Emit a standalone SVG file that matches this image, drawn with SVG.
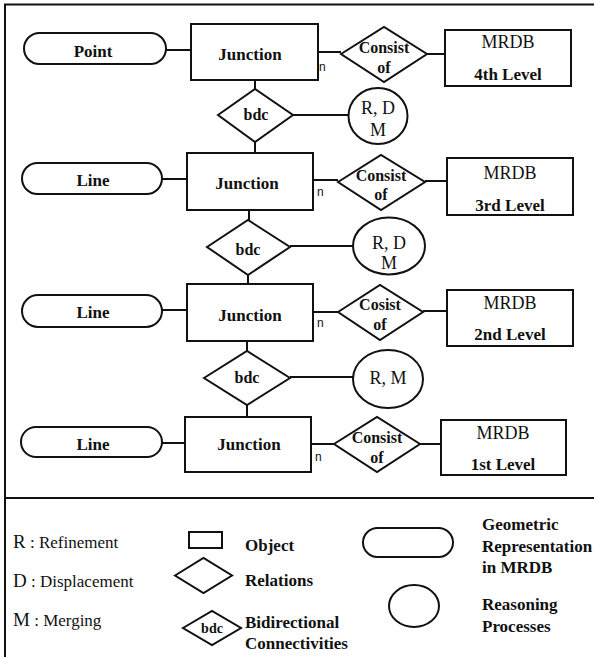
<svg xmlns="http://www.w3.org/2000/svg" width="594" height="657" viewBox="0 0 594 657">
<style>
.s{fill:#fff;stroke:#111;stroke-width:2}
.c line{stroke:#111;stroke-width:2}
</style>
<rect width="594" height="657" fill="#fff"/>
<g id="frame" fill="none" stroke="#111" stroke-width="2">
<polyline points="5,657 5,4.5 594,4.5"/>
<line x1="5" y1="498" x2="594" y2="498"/>
</g>
<g class="c" id="connectors">
<line x1="166" y1="50" x2="191" y2="50"/>
<line x1="318" y1="52" x2="341" y2="52"/>
<line x1="427" y1="54" x2="445" y2="54"/>
<line x1="255" y1="80" x2="255" y2="89"/>
<line x1="255" y1="142" x2="255" y2="153"/>
<line x1="293" y1="115" x2="349" y2="115"/>
<line x1="162" y1="179" x2="187" y2="179"/>
<line x1="313" y1="180" x2="338" y2="180"/>
<line x1="425" y1="181" x2="447" y2="181"/>
<line x1="249" y1="210" x2="249" y2="220"/>
<line x1="248" y1="275" x2="248" y2="284"/>
<line x1="290" y1="246" x2="353" y2="246"/>
<line x1="162" y1="310" x2="187" y2="310"/>
<line x1="313" y1="312" x2="338" y2="312"/>
<line x1="423" y1="311" x2="447" y2="311"/>
<line x1="247" y1="341" x2="247" y2="351"/>
<line x1="247" y1="405" x2="247" y2="417"/>
<line x1="290" y1="377" x2="353" y2="377"/>
<line x1="162" y1="443" x2="185" y2="443"/>
<line x1="311" y1="444" x2="334" y2="444"/>
<line x1="420" y1="444" x2="441" y2="444"/>
</g>
<g id="n-labels" fill="#111">
<text x="319" y="71" font-family="Liberation Sans" font-size="12">n</text>
<text x="317" y="196" font-family="Liberation Sans" font-size="12">n</text>
<text x="317" y="327" font-family="Liberation Sans" font-size="12">n</text>
<text x="315" y="461" font-family="Liberation Sans" font-size="12">n</text>
</g>
<g id="nodes" fill="#111" text-anchor="middle">
<g id="point1"><rect class="s" x="24" y="33" width="142" height="31" rx="15.5"/><text x="93" y="57" font-family="Liberation Serif" font-size="17" font-weight="bold">Point</text></g>
<g id="junction1"><rect class="s" x="191" y="24" width="127" height="56"/><text x="250" y="60" font-family="Liberation Serif" font-size="17" font-weight="bold">Junction</text></g>
<g id="consist1"><polygon class="s" points="341,54 384,27 427,54 384,82"/><text x="384" y="53" font-family="Liberation Serif" font-size="16" font-weight="bold">Consist</text><text x="384" y="73" font-family="Liberation Serif" font-size="16" font-weight="bold">of</text></g>
<g id="mrdb4"><rect class="s" x="445" y="30" width="126" height="56"/><text x="508" y="48" font-family="Liberation Serif" font-size="18">MRDB</text><text x="508" y="80" font-family="Liberation Serif" font-size="17" font-weight="bold">4th Level</text></g>
<g id="bdc1"><polygon class="s" points="218,115 255,89 293,115 255,142"/><text x="256" y="120" font-family="Liberation Serif" font-size="16" font-weight="bold">bdc</text></g>
<g id="rdm1"><ellipse class="s" cx="378" cy="116" rx="29.5" ry="28"/><text x="378" y="114" font-family="Liberation Serif" font-size="18">R, D</text><text x="378" y="136" font-family="Liberation Serif" font-size="18">M</text></g>
<g id="line2"><rect class="s" x="22" y="163" width="140" height="31" rx="15.5"/><text x="93" y="186" font-family="Liberation Serif" font-size="17" font-weight="bold">Line</text></g>
<g id="junction2"><rect class="s" x="187" y="153" width="126" height="57"/><text x="247" y="189" font-family="Liberation Serif" font-size="17" font-weight="bold">Junction</text></g>
<g id="consist2"><polygon class="s" points="338,182 381,155 425,182 381,210"/><text x="381" y="181" font-family="Liberation Serif" font-size="16" font-weight="bold">Consist</text><text x="381" y="200" font-family="Liberation Serif" font-size="16" font-weight="bold">of</text></g>
<g id="mrdb3"><rect class="s" x="447" y="158" width="126" height="57"/><text x="510" y="179" font-family="Liberation Serif" font-size="18">MRDB</text><text x="510" y="211" font-family="Liberation Serif" font-size="17" font-weight="bold">3rd Level</text></g>
<g id="bdc2"><polygon class="s" points="207,247 248,220 290,247 248,275"/><text x="248" y="255" font-family="Liberation Serif" font-size="16" font-weight="bold">bdc</text></g>
<g id="rdm2"><ellipse class="s" cx="389" cy="246" rx="36" ry="28.5"/><text x="389" y="249" font-family="Liberation Serif" font-size="18">R, D</text><text x="389" y="269" font-family="Liberation Serif" font-size="18">M</text></g>
<g id="line3"><rect class="s" x="22" y="295" width="140" height="32" rx="16"/><text x="93" y="318" font-family="Liberation Serif" font-size="17" font-weight="bold">Line</text></g>
<g id="junction3"><rect class="s" x="187" y="284" width="126" height="57"/><text x="250" y="321" font-family="Liberation Serif" font-size="17" font-weight="bold">Junction</text></g>
<g id="consist3"><polygon class="s" points="338,312 380,285 423,312 380,340"/><text x="380" y="310" font-family="Liberation Serif" font-size="16" font-weight="bold">Cosist</text><text x="380" y="330" font-family="Liberation Serif" font-size="16" font-weight="bold">of</text></g>
<g id="mrdb2"><rect class="s" x="447" y="290" width="126" height="56"/><text x="510" y="309" font-family="Liberation Serif" font-size="18">MRDB</text><text x="510" y="340" font-family="Liberation Serif" font-size="17" font-weight="bold">2nd Level</text></g>
<g id="bdc3"><polygon class="s" points="204,378 247,351 290,378 247,405"/><text x="247" y="383" font-family="Liberation Serif" font-size="16" font-weight="bold">bdc</text></g>
<g id="rm3"><ellipse class="s" cx="388" cy="379" rx="35" ry="29"/><text x="388" y="384" font-family="Liberation Serif" font-size="18">R, M</text></g>
<g id="line4"><rect class="s" x="21" y="427" width="141" height="30" rx="15"/><text x="93" y="450" font-family="Liberation Serif" font-size="17" font-weight="bold">Line</text></g>
<g id="junction4"><rect class="s" x="185" y="417" width="126" height="55"/><text x="249" y="450" font-family="Liberation Serif" font-size="17" font-weight="bold">Junction</text></g>
<g id="consist4"><polygon class="s" points="334,444 377,417 420,444 377,472"/><text x="377" y="443" font-family="Liberation Serif" font-size="16" font-weight="bold">Consist</text><text x="377" y="463" font-family="Liberation Serif" font-size="16" font-weight="bold">of</text></g>
<g id="mrdb1"><rect class="s" x="441" y="420" width="125" height="55"/><text x="503" y="439" font-family="Liberation Serif" font-size="18">MRDB</text><text x="503" y="470" font-family="Liberation Serif" font-size="17" font-weight="bold">1st Level</text></g>
</g>
<g id="legend" fill="#111">
<text x="13" y="548" font-family="Liberation Serif" font-size="17"><tspan font-size="19">R</tspan> : Refinement</text>
<text x="13" y="587" font-family="Liberation Serif" font-size="17"><tspan font-size="19">D</tspan> : Displacement</text>
<text x="13" y="626" font-family="Liberation Serif" font-size="17"><tspan font-size="19">M</tspan> : Merging</text>
<rect class="s" x="189" y="532" width="33" height="16"/>
<text x="245" y="551" font-family="Liberation Serif" font-size="17" font-weight="bold">Object</text>
<polygon class="s" points="175,575.5 203.5,558 232,575.5 203.5,593"/>
<text x="245" y="586" font-family="Liberation Serif" font-size="17" font-weight="bold">Relations</text>
<polygon class="s" points="183,628 212,611 241,628 212,645"/>
<text x="212" y="633" font-family="Liberation Serif" font-size="14" font-weight="bold" text-anchor="middle">bdc</text>
<text x="245" y="628" font-family="Liberation Serif" font-size="17" font-weight="bold">Bidirectional</text>
<text x="245" y="649" font-family="Liberation Serif" font-size="17" font-weight="bold">Connectivities</text>
<rect class="s" x="363" y="528" width="90" height="29" rx="14.5"/>
<text x="482" y="530" font-family="Liberation Serif" font-size="17" font-weight="bold">Geometric</text>
<text x="482" y="552" font-family="Liberation Serif" font-size="17" font-weight="bold">Representation</text>
<text x="482" y="573" font-family="Liberation Serif" font-size="17" font-weight="bold">in MRDB</text>
<ellipse class="s" cx="414" cy="606" rx="25" ry="21"/>
<text x="482" y="610" font-family="Liberation Serif" font-size="17" font-weight="bold">Reasoning</text>
<text x="482" y="632" font-family="Liberation Serif" font-size="17" font-weight="bold">Processes</text>
</g>
</svg>
